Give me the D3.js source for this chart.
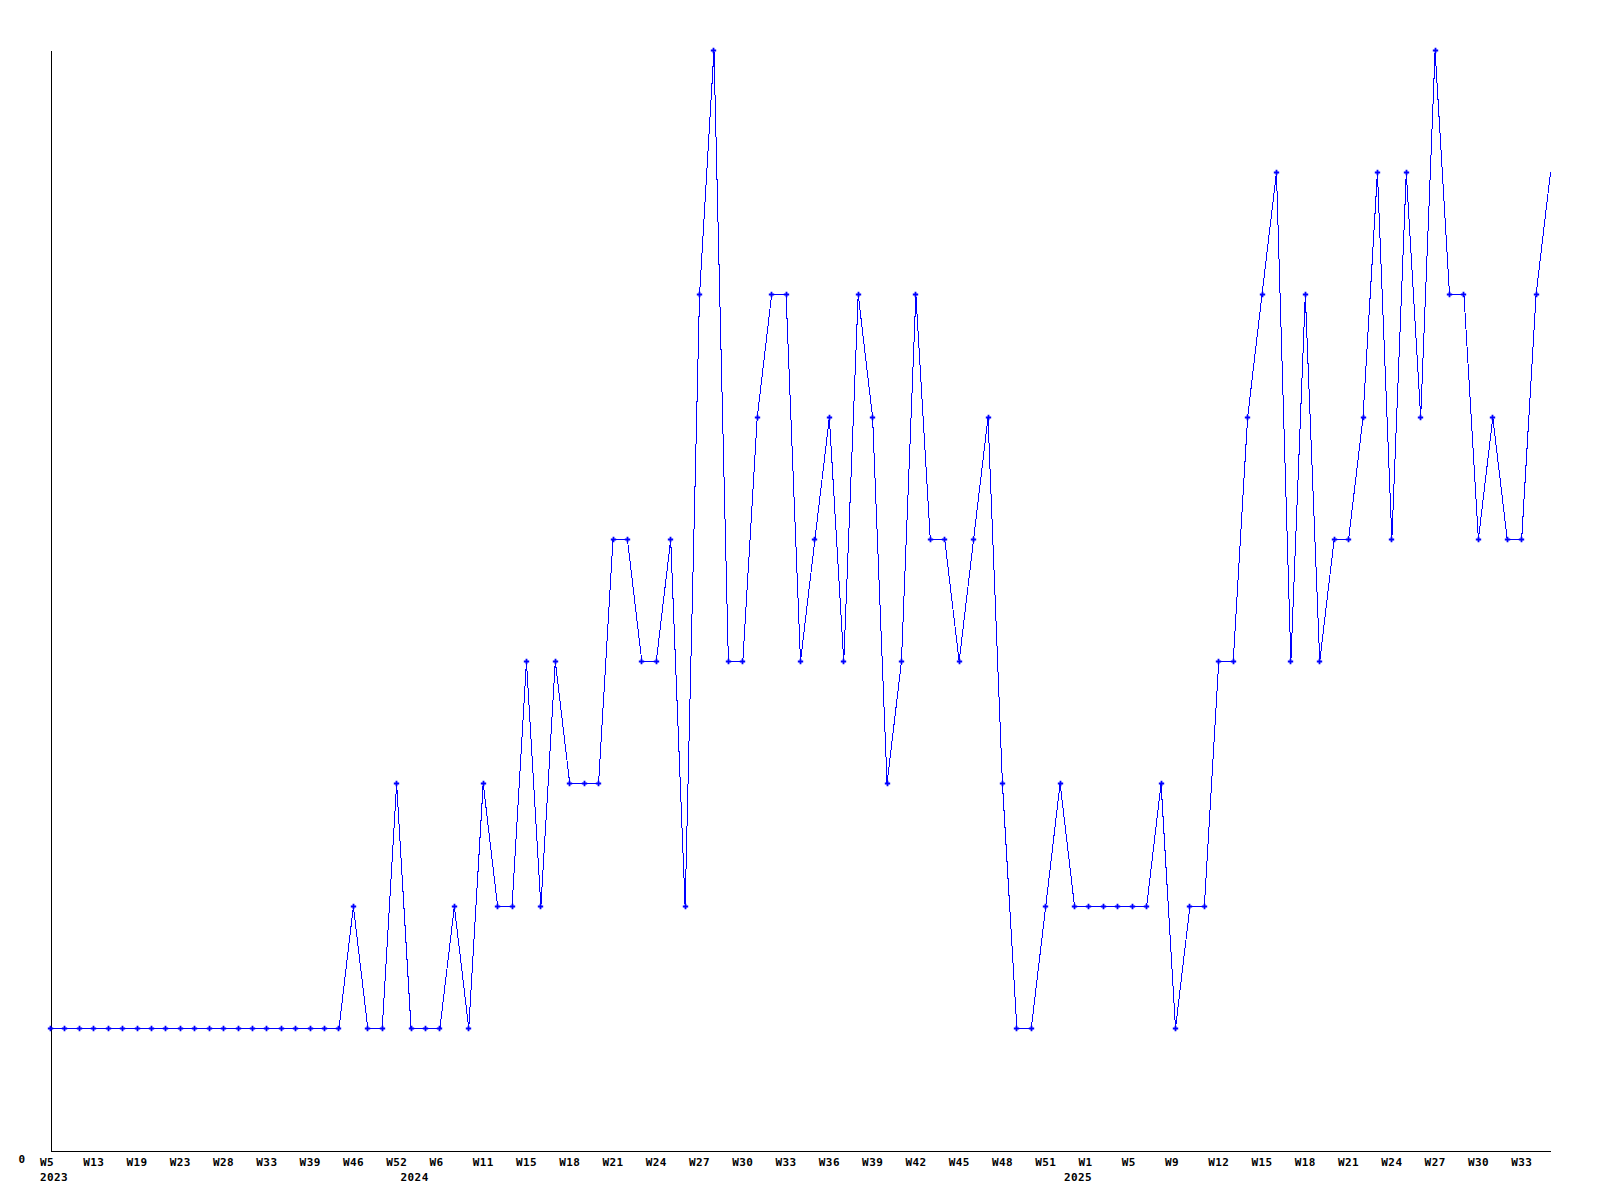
<!DOCTYPE html>
<html>
<head>
<meta charset="utf-8">
<script src="https://cdn.jsdelivr.net/npm/d3@7"></script>
<style>
  html, body { margin: 0; padding: 0; background: #ffffff; }
  svg { display: block; }
  text { font-family: "DejaVu Sans Mono", monospace; font-weight: bold; font-size: 11px; fill: #000; }
</style>
</head>
<body>
<svg id="chart" width="1600" height="1200"></svg>
<script>
// Categories: one per plotted point (year-week)
const weeks = [
  "2023-W5","2023-W8","2023-W11","2023-W13","2023-W15","2023-W17","2023-W19","2023-W20","2023-W22","2023-W23",
  "2023-W25","2023-W26","2023-W28","2023-W30","2023-W32","2023-W33","2023-W35","2023-W37","2023-W39","2023-W41",
  "2023-W44","2023-W46","2023-W48","2023-W50","2023-W52",
  "2024-W1","2024-W3","2024-W6","2024-W8","2024-W10","2024-W11","2024-W13","2024-W14","2024-W15","2024-W16",
  "2024-W17","2024-W18","2024-W19","2024-W20","2024-W21","2024-W22","2024-W23","2024-W24","2024-W25","2024-W26",
  "2024-W27","2024-W28","2024-W29","2024-W30","2024-W31","2024-W32","2024-W33","2024-W34","2024-W35","2024-W36",
  "2024-W37","2024-W38","2024-W39","2024-W40","2024-W41","2024-W42","2024-W43","2024-W44","2024-W45","2024-W46",
  "2024-W47","2024-W48","2024-W49","2024-W50","2024-W51","2024-W52",
  "2025-W0","2025-W1","2025-W2","2025-W3","2025-W5","2025-W6","2025-W7","2025-W9","2025-W10","2025-W11",
  "2025-W12","2025-W13","2025-W14","2025-W15","2025-W16","2025-W17","2025-W18","2025-W19","2025-W20","2025-W21",
  "2025-W22","2025-W23","2025-W24","2025-W25","2025-W26","2025-W27","2025-W28","2025-W29","2025-W30","2025-W31",
  "2025-W32","2025-W33","2025-W34","2025-W35"
];

// Series values, one per week
const values = [
  1,1,1,1,1,1,1,1,1,1,1,1,1,1,1,1,1,1,1,1,1,
  2,1,1,3,1,1,1,2,1,3,2,2,4,2,4,3,3,3,
  5,5,4,4,5,2,7,9,4,4,6,7,7,4,5,6,4,7,6,3,4,7,5,5,4,5,6,3,
  1,1,2,3,2,2,2,2,2,2,3,1,2,2,4,4,6,7,8,4,7,4,5,5,6,8,5,8,6,9,7,7,5,6,5,5,7,8
];

// Tick labels
const xTickWeeks = [
  "2023-W5","2023-W13","2023-W19","2023-W23","2023-W28","2023-W33","2023-W39","2023-W46","2023-W52",
  "2024-W6","2024-W11","2024-W15","2024-W18","2024-W21","2024-W24","2024-W27","2024-W30","2024-W33",
  "2024-W36","2024-W39","2024-W42","2024-W45","2024-W48","2024-W51",
  "2025-W1","2025-W5","2025-W9","2025-W12","2025-W15","2025-W18","2025-W21","2025-W24","2025-W27",
  "2025-W30","2025-W33"
];
const yearTickWeeks = ["2023-W5","2024-W1","2025-W0"];
const yTickValues = [0];

const svg = d3.select("#chart");
const x = d3.scalePoint().domain(weeks).range([50, 1550]).padding(0);
const y = d3.scaleLinear().domain([0, 9]).range([1150, 50]);

// X axis (week labels)
const xAxis = d3.axisBottom(x)
  .tickValues(xTickWeeks)
  .tickSize(0)
  .tickSizeOuter(0)
  .tickFormat(d => d.split("-")[1]);
const gx = svg.append("g").attr("transform", "translate(0.5,1150.5)").call(xAxis);
gx.select(".domain").attr("stroke", "#000").attr("stroke-width", 1).attr("shape-rendering", "crispEdges");
gx.selectAll(".tick text")
  .attr("text-anchor", "start").attr("x", -11).attr("y", 15.5).attr("dy", null)
  .style("font-family", "'DejaVu Sans Mono', monospace").style("font-size", "11px")
  .style("font-weight", "bold").style("letter-spacing", "0.4px").attr("fill", "#000");

// Year labels
const yearAxis = d3.axisBottom(x)
  .tickValues(yearTickWeeks)
  .tickSize(0)
  .tickSizeOuter(0)
  .tickFormat(d => d.split("-")[0]);
const gyear = svg.append("g").attr("transform", "translate(0.5,1150.5)").call(yearAxis);
gyear.select(".domain").remove();
gyear.selectAll(".tick text")
  .attr("text-anchor", "start").attr("x", -11).attr("y", 30.5).attr("dy", null)
  .style("font-family", "'DejaVu Sans Mono', monospace").style("font-size", "11px")
  .style("font-weight", "bold").style("letter-spacing", "0.4px").attr("fill", "#000");

// Y axis
const yAxis = d3.axisLeft(y).tickValues(yTickValues).tickSize(0).tickSizeOuter(0).tickFormat(d3.format("d"));
const gy = svg.append("g").attr("transform", "translate(50.5,0)").call(yAxis);
gy.select(".domain").attr("stroke", "#000").attr("stroke-width", 1).attr("shape-rendering", "crispEdges");
gy.selectAll(".tick text")
  .attr("text-anchor", "start").attr("x", -32).attr("y", 12).attr("dy", null)
  .style("font-family", "'DejaVu Sans Mono', monospace").style("font-size", "11px")
  .style("font-weight", "bold").attr("fill", "#000");

// Line
const data = weeks.map((w, i) => ({ w, v: values[i] }));
const line = d3.line().x(d => x(d.w) + 0.5).y(d => Math.round(y(d.v)) + 0.5);
svg.append("path")
  .datum(data)
  .attr("d", line)
  .attr("fill", "none")
  .attr("stroke", "#0000ff")
  .attr("stroke-width", 1)
  .attr("shape-rendering", "crispEdges");

// Markers (none on last point)
const sym = d3.symbol().type(d3.symbolCross).size(16);
svg.append("g").selectAll("path")
  .data(data.slice(0, data.length - 1))
  .join("path")
  .attr("transform", d => `translate(${Math.round(x(d.w)) + 0.5},${Math.round(y(d.v)) + 0.5})`)
  .attr("d", sym)
  .attr("fill", "#0000ff");
</script>
</body>
</html>
